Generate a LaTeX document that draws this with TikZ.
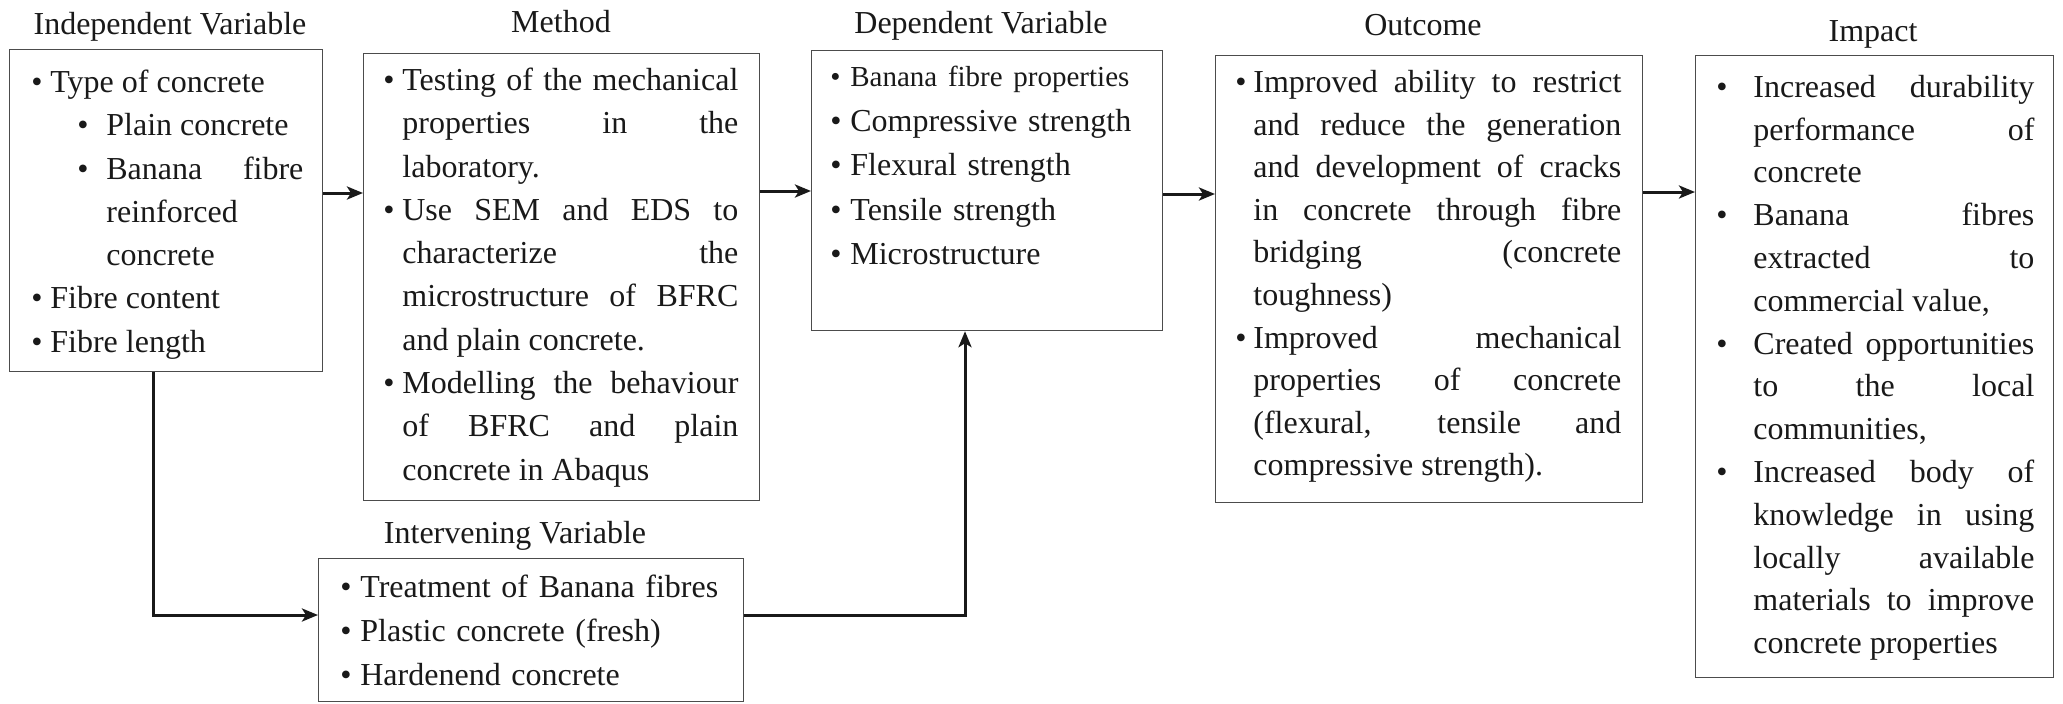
\documentclass[tikz,border=0pt]{standalone}
\usepackage{fontspec}
\setmainfont{Liberation Serif}
\usetikzlibrary{arrows.meta,calc}
\newcommand{\bli}[3]{\ifvmode\noindent\fi\hangindent=#2\hangafter=1\strut\hspace*{#1}\makebox[\dimexpr#2-#1\relax][l]{\textbullet}#3\par}
\tikzset{
  box/.style={draw=black!70, line width=0.6pt, inner sep=0pt, anchor=north west},
  txt/.style={anchor=north west, inner sep=0pt, text=black!90,
    execute at begin node={\tolerance=10000\hyphenpenalty=10000\exhyphenpenalty=10000\parskip=0pt\parindent=0pt\relax}},
  ttl/.style={anchor=base, inner sep=0pt, font=\fontsize{16}{19}\selectfont, text=black!90},
  arr/.style={line width=1.5pt, draw=black!90, -{Stealth[length=8pt,width=6.5pt,inset=2pt]}}
}
\begin{document}
\begin{tikzpicture}[x=0.5pt,y=-0.5pt]
\useasboundingbox (0,0) rectangle (2063,703);
% boxes
\node[box, minimum width=156.5pt, minimum height=161pt] (indep) at (9,49) {};
\node[box, minimum width=198pt, minimum height=223.5pt] (method) at (363,53) {};
\node[box, minimum width=175.5pt, minimum height=140pt] (dep) at (811,50) {};
\node[box, minimum width=213.5pt, minimum height=223.5pt] (outc) at (1215,55) {};
\node[box, minimum width=179pt, minimum height=311pt] (impact) at (1695,55) {};
\node[box, minimum width=212.5pt, minimum height=71.5pt] (interv) at (318,558) {};
% titles
\node[ttl] (t1) at (170,34) {Independent Variable};
\node[ttl] (t2) at (561,32) {Method};
\node[ttl] (t3) at (981,33) {Dependent Variable};
\node[ttl] (t4) at (1423,35) {Outcome};
\node[ttl] (t5) at (1873,41) {Impact};
\node[ttl] (t6) at (515,543) {Intervening Variable};
% texts
\node[txt, text width=136pt, align=justify, font=\fontsize{16}{21.65}\selectfont] (x1) at (31,61.7) {%
\bli{0pt}{9.5pt}{Type of concrete}%
\bli{23pt}{37.5pt}{Plain concrete}%
\bli{23pt}{37.5pt}{Banana fibre\linebreak reinforced\linebreak concrete}%
\bli{0pt}{9.5pt}{Fibre content}%
\bli{0pt}{9.5pt}{Fibre length}};
\node[txt, text width=177.5pt, align=justify, font=\fontsize{16}{21.65}\selectfont] (x2) at (383,59.7) {%
\bli{0pt}{9.5pt}{Testing of the mechanical\linebreak properties in the\linebreak laboratory.}%
\bli{0pt}{9.5pt}{Use SEM and EDS to\linebreak characterize the\linebreak microstructure of BFRC\linebreak and plain concrete.}%
\bli{0pt}{9.5pt}{Modelling the behaviour\linebreak of BFRC and plain\linebreak concrete in Abaqus}};
\node[txt, text width=160pt, align=left, font=\fontsize{16}{22.3}\selectfont] (x3) at (830,54.8) {%
{\fontsize{14.5}{22.3}\selectfont\bli{0pt}{10pt}{Banana fibre properties}}%
\bli{0pt}{10pt}{Compressive strength}%
\bli{0pt}{10pt}{Flexural strength}%
\bli{0pt}{10pt}{Tensile strength}%
\bli{0pt}{10pt}{Microstructure}};
\node[txt, text width=193pt, align=justify, font=\fontsize{16}{21.3}\selectfont] (x4) at (1235,62.2) {%
\bli{0pt}{9pt}{Improved ability to restrict\linebreak and reduce the generation\linebreak and development of cracks\linebreak in concrete through fibre\linebreak bridging (concrete\linebreak toughness)}%
\bli{0pt}{9pt}{Improved mechanical\linebreak properties of concrete\linebreak (flexural, tensile and\linebreak compressive strength).}};
\node[txt, text width=159pt, align=justify, font=\fontsize{16}{21.4}\selectfont] (x5) at (1716,67) {%
\bli{0pt}{18.5pt}{Increased durability\linebreak performance of\linebreak concrete}%
\bli{0pt}{18.5pt}{Banana fibres\linebreak extracted to\linebreak commercial value,}%
\bli{0pt}{18.5pt}{Created opportunities\linebreak to the local\linebreak communities,}%
\bli{0pt}{18.5pt}{Increased body of\linebreak knowledge in using\linebreak locally available\linebreak materials to improve\linebreak concrete properties}};
\node[txt, text width=200pt, align=left, font=\fontsize{16}{22}\selectfont] (x6) at (340,566.2) {%
\bli{0pt}{10pt}{Treatment of Banana fibres}%
\bli{0pt}{10pt}{Plastic concrete (fresh)}%
\bli{0pt}{10pt}{Hardenend concrete}};
% connectors
\coordinate (a1) at (0,193);
\coordinate (a2) at (0,191);
\coordinate (a3) at (0,194);
\coordinate (a4) at (0,192);
\coordinate (vx) at (153,0);
\coordinate (hy) at (0,615);
\coordinate (ux) at (965,0);
\draw[arr] (indep.east |- a1) -- (method.west |- a1);
\draw[arr] (method.east |- a2) -- (dep.west |- a2);
\draw[arr] (dep.east |- a3) -- (outc.west |- a3);
\draw[arr] (outc.east |- a4) -- (impact.west |- a4);
\draw[arr] (indep.south -| vx) |- (interv.west |- hy);
\draw[arr] (interv.east |- hy) -| (dep.south -| ux);
\end{tikzpicture}
\end{document}
